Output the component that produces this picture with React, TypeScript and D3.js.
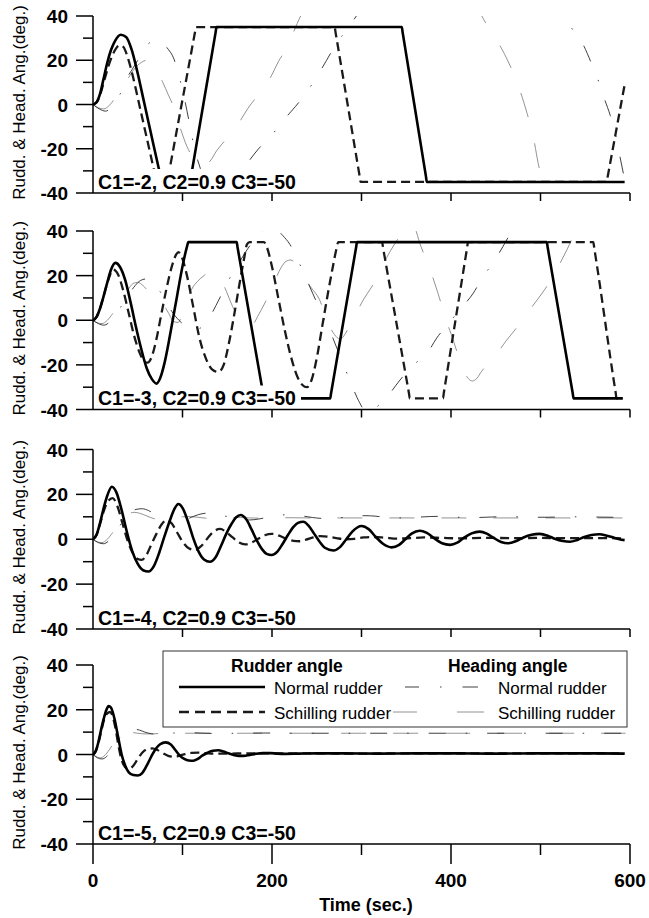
import React from 'react';
import * as d3 from 'd3';

type P = [number, number];

// ---------- axes / labels ----------
const timeTicks = [0, 100, 200, 300, 400, 500, 600];
const timeMajor = [0, 200, 400, 600];
const angleTicks = [-40, -30, -20, -10, 0, 10, 20, 30, 40];
const angleLabels = [-40, -20, 0, 20, 40];
const panelLabels = [
  'C1=-2, C2=0.9 C3=-50',
  'C1=-3, C2=0.9 C3=-50',
  'C1=-4, C2=0.9 C3=-50',
  'C1=-5, C2=0.9 C3=-50',
];
const yTitle = 'Rudd. & Head. Ang.(deg.)';
const xTitle = 'Time (sec.)';

// ---------- panel 1 : C1=-2 ----------
const normalRudder1: P[] = [
  [0, 0], [4, 1], [8, 5], [12, 12], [16, 19], [20, 24.5], [25, 29], [31, 31.5], [37, 30.5], [43, 25],
  [50, 14], [56, 3], [62, -8], [68, -19], [73, -28], [76, -33], [78, -35], [108.5, -35], [109.5, -32.6],
  [137, 32.6], [138, 35], [345, 35], [346, 32.5], [372, -32.5], [373, -35], [594, -35],
];
const schillingRudder1: P[] = [
  [0, 0], [4, 1], [8, 4.5], [12, 10], [17, 17], [22, 22.5], [26, 25.5], [30, 26.8], [34, 26], [39, 21],
  [45, 12], [50, 3], [55, -6], [60, -15], [65, -24], [68, -29.5], [70, -33], [72, -35], [83, -35],
  [84, -32.8], [114, 32.8], [115, 35], [270, 35], [271, 32.6], [298, -32.6], [299, -35], [574, -35],
  [575, -32.8], [594.5, 10],
];
const normalHeading1: P[] = [
  [0, 0], [7, -2], [14, -3], [20, -1.5], [26, 2], [32, 6], [38, 12], [44, 16], [50, 20], [56, 24.5],
  [62, 27.5], [70, 29], [78, 27.6], [84, 25], [90, 21], [96, 13], [103, 1], [108, -9], [114, -21],
  [120, -29], [126, -37], [132, -44], [138, -48], [143, -46], [148, -40], [160, -33], [172, -26.7],
  [185, -20], [198, -14.7], [213, -7], [226, -1], [239, 5.7], [250, 12.5], [261, 20], [272, 27.6],
  [284, 34], [296, 41], [320, 55], [360, 80], [400, 90], [430, 85], [470, 70], [500, 55], [515, 46],
  [525.5, 40.4], [535, 34.4], [548, 26.8], [557, 18.5], [564, 11.5], [571, 3], [578, -5], [583, -12],
  [587, -20], [592, -30], [595, -36],
];
const schillingHeading1: P[] = [
  [0, 0], [6, -1.5], [12, -2], [18, -0.5], [24, 2.5], [30, 6], [38, 11], [46, 16], [54, 19], [60, 20],
  [66, 18.5], [72, 14.5], [78, 10], [84, 4.5], [90, -1], [97, -10], [105, -19], [112, -24], [118, -26.5],
  [125, -27.5], [131, -25.5], [138, -21], [147, -16.5], [157, -11.7], [165, -7], [173, -1.8], [182, 3],
  [192, 8], [200, 13.5], [207, 19.3], [214, 24], [220, 29], [232, 40], [260, 56], [300, 80], [350, 95],
  [390, 80], [420, 55], [434, 40.4], [449, 30.6], [464, 19.3], [475, 8.7], [485, -4], [492, -14.7],
  [497.5, -26.7], [505, -38.8], [512, -50], [530, -75], [560, -100], [595, -110],
];

// ---------- panel 2 : C1=-3 ----------
const normalRudder2: P[] = [
  [0, 0], [4, 1.5], [8, 5.5], [12, 11], [16, 17], [20, 22.5], [25, 25.7], [30, 24], [36, 18], [42, 8],
  [48, -3], [54, -13], [60, -21.5], [66, -26.5], [71, -28.4], [75, -26], [80, -19], [85, -9], [89.5, 1],
  [94, 11], [98, 20], [102, 28], [105, 33], [106.5, 35], [160.5, 35], [161.5, 32.7], [190, -32.7],
  [191, -35], [265, -35], [266, -32.7], [294, 32.7], [295, 35], [507, 35], [508, 32.7], [536, -32.7],
  [537, -35], [592, -35],
];
const schillingRudder2: P[] = [
  [0, 0], [4, 1.5], [8, 5.5], [12, 11], [17, 18], [22.7, 22.7], [28, 20.5], [34, 13], [40, 3], [46, -7],
  [52, -14.5], [57, -18.3], [61, -19], [65, -17], [70, -10], [76, 2], [82, 14], [88, 24], [93, 29.5],
  [95.5, 30.5], [99, 28.5], [105, 20], [112, 6], [119, -8], [126, -17], [133, -22], [140, -23.2],
  [146, -20], [152, -10], [158, 3], [164, 17], [169, 28], [172, 34], [175, 35], [191, 35], [194, 33],
  [200, 24], [207, 10], [214, -4], [221, -16], [228, -25], [234, -29], [239, -30], [244, -27], [250, -17],
  [256, -3], [262, 11], [268, 24], [272, 32], [274, 35], [323, 35], [324, 32.7], [353, -32.7], [354, -35],
  [391, -35], [392, -32.5], [418, 32.5], [419, 35], [559, 35], [560, 32.5], [584, -32.5], [585, -35],
  [592, -35],
];
const normalHeading2: P[] = [
  [0, 0], [6, -1.5], [12, -2.2], [18, -1], [25, 2.5], [32, 6.5], [40, 11.5], [47, 15.5], [53, 17.8],
  [59, 18.5], [66, 17], [73, 14], [80, 9.5], [88, 4], [96, 0], [105, -3], [113, -4.2], [120, -3.5],
  [127, -0.5], [134, 4], [141, 9.5], [147.5, 14.5], [153, 19], [158.7, 22.8], [165, 27], [172, 31.5],
  [180, 36], [188, 39.5], [195, 41.5], [200, 42], [205, 40.7], [212, 38], [220, 34], [230, 26], [240, 17],
  [250, 8], [258, 1], [266, -6], [274, -14], [282, -22], [290, -30], [298, -37], [305, -41], [311, -41],
  [317, -38.9], [330, -33.6], [343, -26.8], [358, -20], [373, -15], [384, -8], [399, -0.6], [410, 4.8],
  [425, 12.2], [436, 19.7], [447, 25.7], [458, 33], [468, 40], [490, 52], [520, 62], [560, 68], [595, 66],
];
const schillingHeading2: P[] = [
  [0, 0], [5, -1.2], [10, -1.5], [16, 0], [22, 3], [30, 8], [38, 13], [45, 16.5], [50, 17], [56, 15.5],
  [64, 12], [72, 9.5], [77, 8], [84, 3.5], [90, -0.5], [95, -1], [100, 3], [105, 8.5], [110, 13.7],
  [117, 17.5], [124, 20], [130, 21.5], [135, 21], [141, 18.5], [147.5, 14.4], [154, 8], [160.6, 2.4],
  [166, -0.5], [172, -1.8], [179, -1.4], [185, 2.5], [192, 7.7], [198, 13], [204, 18.5], [210, 23.5],
  [216, 26.5], [221, 27], [226, 25.5], [230, 23], [235, 19.6], [244, 14.5], [253, 9.3], [262, -0.6],
  [270, -6.5], [276, -8.5], [282, -6], [288, -1], [294, 3], [300, 7.7], [315, 17.4], [328, 28],
  [344, 38.5], [350, 42], [355, 43], [360, 41], [365, 34.7], [376, 23.4], [386, 11.4], [395, -0.6],
  [400, -6], [407, -14.5], [414, -22.3], [419, -26], [424, -27.2], [429, -26], [434, -23], [443, -18.5],
  [453, -14], [462, -9], [471.5, -4.3], [480, 0.5], [488, 4.7], [497, 9.5], [507, 15.2], [514, 20],
  [522, 25.7], [530, 32], [537, 38], [545, 44], [560, 52], [580, 58], [595, 60],
];

// ---------- panel 3 : C1=-4 ----------
const normalRudder3: P[] = [
  [0, 0], [4, 2], [8, 7.5], [12, 14], [16, 19.5], [21, 23.4], [26, 21], [32, 13], [38, 3], [44, -5.5],
  [50, -11], [56, -13.8], [62, -14.4], [68, -12], [74, -6], [80, 1.5], [86, 8.5], [91, 13.5], [95.3, 15.7],
  [100, 14], [106, 8], [112, 0.5], [118, -5.5], [124, -9], [130.7, -10], [137, -8], [143, -3], [149, 2.5],
  [155, 7], [160, 9.8], [165, 10.8], [171, 9], [177, 4.5], [183, -0.5], [189, -4.5], [194, -6.5],
  [199.7, -7], [206, -5.5], [212, -2], [218, 2], [224, 5.5], [229, 7.3], [235, 7.8], [241, 6], [247, 2.5],
  [253, -1], [259, -3.8], [268.5, -5], [276, -3.5], [283, 0], [290, 3.5], [300, 5.9], [308, 4.5],
  [316, 1], [324, -2], [333.7, -3.6], [342, -2.5], [349, 0], [356, 2.5], [365, 3.8], [373, 2.8],
  [381, 0.5], [390, -1.8], [399, -2.5], [407, -1.5], [415, 0.8], [423, 2.6], [432, 3.4], [440, 2.5],
  [448, 0.5], [456, -1.2], [464, -1.8], [473, -0.8], [481, 0.8], [490, 2], [499, 2.4], [508, 1.6],
  [516, 0.2], [525, -0.8], [533, -1.1], [541, -0.3], [549, 1], [557, 1.9], [566, 2.2], [574, 1.6],
  [582, 0.7], [588, 0], [594, -0.4],
];
const schillingRudder3: P[] = [
  [0, 0], [4, 2], [8, 7], [12, 12.5], [16, 16.5], [22, 18.3], [27, 15], [33, 7], [39, -1], [45, -6.5],
  [50, -8.8], [54.4, -9.2], [59, -7.5], [65, -2.5], [71, 2.5], [77, 6.8], [82, 8.6], [88, 7], [94, 3],
  [100, -1], [107, -4], [114, -4.8], [121, -3], [128, 0.5], [135, 3.5], [142, 4.6], [149, 3.2], [156, 0.8],
  [163, -1.4], [170, -2.3], [177, -1.5], [185, 0.3], [192, 1.8], [200, 2.4], [208, 1.6], [216, 0.2],
  [224, -0.7], [231, -0.9], [238, -0.2], [246, 0.8], [254, 1.4], [262, 1.2], [272, 0.5], [282, 0],
  [292, 0.2], [302, 0.8], [314, 1], [326, 0.7], [340, 0.3], [355, 0.5], [370, 0.8], [390, 0.6],
  [410, 0.4], [440, 0.6], [470, 0.5], [500, 0.6], [530, 0.5], [560, 0.5], [594, 0.4],
];
const normalHeading3: P[] = [
  [0, 0], [6, -1.5], [12, -2], [18, -0.5], [24, 2.5], [30, 6], [36, 9.5], [42, 12], [48, 13.3], [55, 13.6],
  [62, 12.8], [70, 10.8], [78, 8.9], [86, 7.8], [94, 7.7], [102, 8.5], [110, 9.8], [118, 11], [127, 11.6],
  [136, 11.4], [145, 10.6], [155, 9.6], [165, 8.8], [175, 8.6], [185, 9], [195, 9.8], [205, 10.5],
  [215, 10.9], [225, 10.8], [235, 10.3], [245, 9.7], [255, 9.3], [265, 9.2], [275, 9.5], [285, 10],
  [295, 10.4], [305, 10.5], [315, 10.3], [325, 9.9], [340, 9.5], [355, 9.6], [370, 10], [385, 10.2],
  [400, 10], [415, 9.7], [430, 9.7], [445, 9.9], [460, 10.1], [475, 10], [490, 9.8], [505, 9.8],
  [520, 9.9], [540, 10], [560, 9.9], [580, 9.8], [595, 9.9],
];
const schillingHeading3: P[] = [
  [0, 0], [5, -1.2], [10, -1.5], [16, 0], [22, 3], [28, 6.5], [34, 9.5], [40, 11.3], [46, 12], [52, 11.6],
  [60, 10.4], [68, 9.2], [76, 8.7], [84, 8.9], [92, 9.5], [100, 10], [108, 10.1], [117, 9.8], [126, 9.4],
  [135, 9.3], [145, 9.5], [155, 9.7], [165, 9.7], [175, 9.5], [190, 9.4], [205, 9.5], [220, 9.6],
  [240, 9.5], [270, 9.5], [300, 9.5], [350, 9.5], [400, 9.5], [450, 9.5], [500, 9.5], [550, 9.5], [595, 9.5],
];

// ---------- panel 4 : C1=-5 ----------
const normalRudder4: P[] = [
  [0, 0], [3, 1.5], [6, 5.5], [9, 11], [12, 16], [15, 20], [17.5, 21.6], [20, 21], [24, 16], [28, 8],
  [32, 0], [36, -5], [40, -8], [45, -9.2], [50, -9.4], [55, -8.3], [60, -5], [65, -1], [70, 2.5], [75, 4.6],
  [81, 5.4], [87, 4.5], [92, 2], [97, -0.5], [102, -2], [107, -2.7], [112, -2.8], [117, -2], [122, -0.5],
  [128, 0.8], [134, 1.7], [140, 1.9], [146, 1.3], [152, 0.4], [158, -0.3], [163, -0.6], [168, -0.6],
  [175, -0.2], [182, 0.3], [190, 0.6], [198, 0.6], [206, 0.4], [215, 0.3], [230, 0.4], [250, 0.5],
  [280, 0.5], [320, 0.4], [360, 0.5], [400, 0.5], [450, 0.4], [500, 0.5], [550, 0.5], [594, 0.4],
];
const schillingRudder4: P[] = [
  [0, 0], [3, 1.5], [6, 5], [9, 10], [12, 15], [15, 18], [19, 19], [22, 17], [25, 12], [28, 5], [31, -1],
  [34, -4.5], [38, -6.2], [41, -6.3], [45, -5], [50, -2], [55, 0.8], [60, 2.3], [66, 2.7], [72, 2],
  [78, 0.6], [84, -0.6], [90, -1], [96, -0.6], [103, 0.2], [110, 0.7], [118, 0.8], [126, 0.6], [135, 0.4],
  [150, 0.4], [170, 0.5], [200, 0.5], [250, 0.5], [300, 0.4], [350, 0.5], [400, 0.5], [450, 0.5],
  [500, 0.5], [550, 0.5], [594, 0.5],
];
const normalHeading4: P[] = [
  [0, 0], [5, -1.5], [10, -2], [15, -1], [20, 1.5], [25, 4.5], [30, 7.5], [35, 9.5], [40, 10.8], [46, 11.3],
  [52, 10.9], [58, 10], [65, 9.3], [72, 9], [80, 9.2], [90, 9.6], [100, 9.8], [112, 9.7], [125, 9.5],
  [140, 9.4], [160, 9.5], [190, 9.6], [230, 9.5], [300, 9.5], [400, 9.5], [500, 9.5], [595, 9.5],
];
const schillingHeading4: P[] = [
  [0, 0], [4, -1], [8, -1.5], [13, -0.5], [18, 2], [23, 5], [28, 7.5], [33, 9], [38, 9.7], [44, 9.8],
  [50, 9.5], [58, 9.2], [66, 9.2], [75, 9.4], [90, 9.5], [120, 9.5], [200, 9.5], [300, 9.5], [400, 9.5],
  [500, 9.5], [595, 9.5],
];

const panelTops = [16, 231, 449.5, 665];
const panelBottoms = [193, 409.5, 629, 844];

const panels = [
  { nr: normalRudder1, sr: schillingRudder1, nh: normalHeading1, sh: schillingHeading1 },
  { nr: normalRudder2, sr: schillingRudder2, nh: normalHeading2, sh: schillingHeading2 },
  { nr: normalRudder3, sr: schillingRudder3, nh: normalHeading3, sh: schillingHeading3 },
  { nr: normalRudder4, sr: schillingRudder4, nh: normalHeading4, sh: schillingHeading4 },
];

const FONT = "'Liberation Sans', Arial, Helvetica, sans-serif";

const styles = {
  nr: { stroke: '#000', strokeWidth: 2.6, dash: undefined as string | undefined },
  sr: { stroke: '#1a1a1a', strokeWidth: 2.3, dash: '9,5' },
  nh: { stroke: '#2a2a2a', strokeWidth: 0.9, dash: '17,20,1.5,20' },
  sh: { stroke: '#777', strokeWidth: 0.8, dash: '25,27' },
};

export default function App() {
  const x = d3.scaleLinear().domain([0, 600]).range([93, 630]);
  const x0 = x(0);
  const x1 = x(600);

  return (
    <svg
      width={649}
      height={918}
      style={{ position: 'absolute', left: 0, top: 0, background: '#fff' }}
      fontFamily={FONT}
    >
      <rect x={0} y={0} width={649} height={918} fill="#fff" />
      <defs>
        {panels.map((_, i) => (
          <clipPath id={`clip${i}`} key={i}>
            <rect x={x0} y={panelTops[i]} width={x1 - x0} height={panelBottoms[i] - panelTops[i]} />
          </clipPath>
        ))}
      </defs>
      {panels.map((p, i) => {
        const top = panelTops[i];
        const bottom = panelBottoms[i];
        const y = d3.scaleLinear().domain([-40, 40]).range([bottom, top]);
        const line = d3
          .line<P>()
          .x((d) => x(d[0]))
          .y((d) => y(d[1]))
          .curve(d3.curveMonotoneX);
        const cy = (top + bottom) / 2 - 2;
        const isLast = i === panels.length - 1;
        return (
          <g key={i}>
            <g clipPath={`url(#clip${i})`}>
              {(['sh', 'nh', 'sr', 'nr'] as const).map((k) => (
                <path
                  key={k}
                  d={line(p[k]) || ''}
                  fill="none"
                  stroke={styles[k].stroke}
                  strokeWidth={styles[k].strokeWidth}
                  strokeDasharray={styles[k].dash}
                  strokeLinejoin="round"
                />
              ))}
            </g>
            {/* label with white box */}
            <rect x={x0 + 1} y={bottom - 24} width={207} height={23} fill="#fff" />
            <text x={98} y={bottom - 4.5} fontSize={19.5} fontWeight="bold" fill="#000">
              {panelLabels[i]}
            </text>
            {/* y axis */}
            <line x1={x0} x2={x0} y1={top} y2={bottom} stroke="#000" strokeWidth={1.5} />
            {angleTicks.map((t) => {
              const major = angleLabels.includes(t);
              return (
                <line
                  key={t}
                  x1={x0 - (major ? 17 : 10)}
                  x2={x0}
                  y1={y(t)}
                  y2={y(t)}
                  stroke="#000"
                  strokeWidth={1.5}
                />
              );
            })}
            {angleLabels.map((t) => (
              <text key={t} x={68} y={y(t) + 7} fontSize={19} fontWeight="bold" textAnchor="end" fill="#000">
                {t}
              </text>
            ))}
            <text
              transform={`translate(25,${cy}) rotate(-90)`}
              textAnchor="middle"
              fontSize={17}
              fill="#000"
            >
              {yTitle}
            </text>
            {/* x axis */}
            <line x1={x0} x2={x1} y1={bottom} y2={bottom} stroke="#000" strokeWidth={1.5} />
            {timeTicks
              .filter((t) => isLast || t > 0)
              .map((t) => {
                const len = isLast ? (timeMajor.includes(t) ? 20 : 11) : 8;
                return (
                  <line key={t} x1={x(t)} x2={x(t)} y1={bottom} y2={bottom + len} stroke="#000" strokeWidth={1.5} />
                );
              })}
            {isLast &&
              timeMajor.map((t) => (
                <text key={t} x={x(t)} y={887} fontSize={19} fontWeight="bold" textAnchor="middle" fill="#000">
                  {t}
                </text>
              ))}
            {isLast && (
              <text x={366} y={911} fontSize={18} fontWeight="bold" textAnchor="middle" fill="#000">
                {xTitle}
              </text>
            )}
          </g>
        );
      })}
      {/* legend */}
      <g>
        <rect x={163} y={651} width={464} height={76} fill="#fff" stroke="#333" strokeWidth={1} />
        <text x={231} y={672} fontSize={17.5} fontWeight="bold">Rudder angle</text>
        <text x={448} y={672} fontSize={17.5} fontWeight="bold">Heading angle</text>
        <line x1={179} x2={265} y1={687} y2={687} stroke="#000" strokeWidth={2.6} />
        <line x1={179} x2={265} y1={712} y2={712} stroke="#1a1a1a" strokeWidth={2.3} strokeDasharray="10,6" />
        <text x={274} y={694} fontSize={17}>Normal rudder</text>
        <text x={274} y={719} fontSize={17}>Schilling rudder</text>
        <line x1={405} x2={478} y1={687} y2={687} stroke="#2a2a2a" strokeWidth={0.9} strokeDasharray="14,21,1.5,21,16" />
        <line x1={393} x2={484} y1={712} y2={712} stroke="#777" strokeWidth={0.8} strokeDasharray="24,40,27" />
        <text x={498} y={694} fontSize={17}>Normal rudder</text>
        <text x={498} y={719} fontSize={17}>Schilling rudder</text>
      </g>
    </svg>
  );
}
